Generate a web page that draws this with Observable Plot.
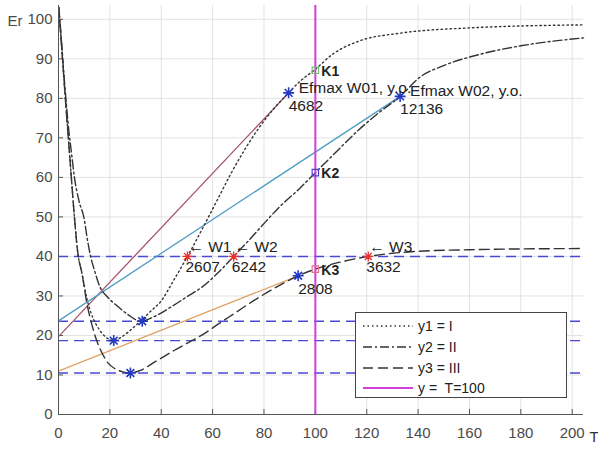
<!DOCTYPE html>
<html><head><meta charset="utf-8">
<script src="https://cdn.jsdelivr.net/npm/d3@7"></script>
<script src="https://cdn.jsdelivr.net/npm/@observablehq/plot@0.6"></script>
<style>
body{margin:0;background:#fff;font-family:"Liberation Sans",Arial,Helvetica,sans-serif;}
#wrap{position:relative;width:598px;height:450px;overflow:hidden;}
#legend{position:absolute;left:355px;top:312px;width:212px;height:86px;border:1px solid #444;background:#fff;box-sizing:border-box;font-size:14px;color:#222;}
.row{position:absolute;left:0;height:20px;display:flex;align-items:center;white-space:pre;}
.row svg{margin-left:7px;margin-right:5px;}
</style></head><body><div id="wrap"></div>
<script>
// ---- data ----
const xTicks = [0,20,40,60,80,100,120,140,160,180,200];
const yTicks = [0,10,20,30,40,50,60,70,80,90,100];

const y1T = [0.1,1,2,3,4,5,6,7.5,9.2,11,12.5,14.5,17,19,21.5,24,27,30,33,36,39.7,44.7,50.2,56,62,67,72,78,84,89.6,94,99.5,107,117.5,133,159,204.4];
const y1E = [103,95,86,77,68.5,60,51.5,41,35.5,29.5,26,23,20.5,19.3,18.7,19.4,20.8,22.5,24.3,26.2,28.5,33.8,40,47,54.5,60.8,66.5,72.5,77.5,81.4,84.3,87.1,91.3,94.6,96.5,97.8,98.6];

const y2T = [0.1,1,2,3,4,5,6.2,8,9.9,11.2,12.5,14,16,19,22.8,27,32,38,44,50,56,62,68.2,74,78.6,86,94.2,100,108.5,116,124,133,141,150,165,180,204.4];
const y2E = [103,96,87,79,72,66.5,60,54,49.8,44.5,40,36.5,32.5,29.8,27.5,25.3,23.6,25,27.3,29.8,32.3,35.8,40,44,47.3,52.5,57.4,61.2,66.7,71.5,76,80.5,85.5,88.3,91.3,93.3,95.3];

const y3T = [0.1,1,2,3,4,5,6,7.5,9.2,11.1,13.1,15,17,19.6,22,25,28,32,38,45,50,56.6,62,69,76,85,93.3,100,110,120.6,130,140,160,180,204.4];
const y3E = [103,95,86,77,68.5,60,51.5,41,35.5,28,22.5,18.5,15.5,12.8,11.6,10.8,10.5,11.2,13.5,16.2,18,20.4,22.8,25.8,28.8,32.3,35.1,36.8,38.6,40,40.8,41.3,41.7,41.9,42];

const levelE = [40, 23.6, 18.7, 10.5];          // horizontal dashed levels
const minT = [21.5, 32.6, 28];                   // minima (blue stars)
const minE = [18.7, 23.6, 10.5];
const efT = [89.6, 133, 93.3];                   // Efmax points (blue stars)
const efE = [81.4, 80.5, 35.1];
const efLabel = ["Efmax W01, y.o.", "Efmax W02, y.o.", ""];
const efValue = ["4682", "12136", "2808"];
const tanStartE = [19.7, 23.7, 11.0];            // tangent lines start at T = 0
const tanColor = ["#a5556a", "#4f9dc4", "#e0a266"];
const wT = [50.2, 68.2, 120.6];                  // level crossings (red stars)
const wE = [40, 40, 40];
const wLabel = ["\u2190 W1", "\u2190 W2", "\u2190 W3"];
const wValue = ["2607", "6242", "3632"];
const kT = [100, 100, 100];                      // intersections with T = 100
const kE = [87.1, 61.2, 36.8];
const kLabel = ["K1", "K2", "K3"];
const kColor = ["#66c466", "#4444cc", "#e07080"];
const vLineT = [100];

const legendLabels = ["y1 = I", "y2 = II", "y3 = III", "y =  T=100"];

// ---- build ----
const pts = (T, E) => T.map((t, i) => ({T: t, E: E[i]}));
const idx3 = [0, 1, 2];
const tanData = idx3.flatMap(i => [{T: 0, E: tanStartE[i], s: i}, {T: efT[i], E: efE[i], s: i}]);

const asterisk = {draw(ctx, size) {
  const r = Math.sqrt(size / Math.PI), d = r * Math.SQRT1_2;
  ctx.moveTo(-r, 0); ctx.lineTo(r, 0); ctx.moveTo(0, -r); ctx.lineTo(0, r);
  ctx.moveTo(-d, -d); ctx.lineTo(d, d); ctx.moveTo(-d, d); ctx.lineTo(d, -d);
}};
const square = {draw(ctx, size) {
  const r = Math.sqrt(size / Math.PI); ctx.rect(-r, -r, 2 * r, 2 * r);
}};

const curveColor = "#333";
const font = '"Liberation Sans", Arial, Helvetica, sans-serif';

const chart = Plot.plot({
  width: 598, height: 450,
  marginLeft: 58, marginRight: 15, marginTop: 5, marginBottom: 36,
  x: {domain: [0, 204.4]},
  y: {domain: [0, 103.5]},
  style: {fontFamily: font, fontSize: "15px", color: "#444", background: "#fff", overflow: "visible"},
  marks: [
    Plot.gridX(xTicks, {stroke: "#e2e2e2", strokeOpacity: 1}),
    Plot.gridY(yTicks, {stroke: "#e2e2e2", strokeOpacity: 1}),
    Plot.axisX(xTicks, {tickSize: 0, tickPadding: 13, fill: "#4a4a4a", fontSize: 15, label: null}),
    Plot.axisY(yTicks, {tickSize: 0, tickPadding: 6, fill: "#4a4a4a", fontSize: 15, label: null}),
    Plot.axisX(xTicks, {tickSize: -5, text: null, stroke: "#555", label: null}),
    Plot.axisY(yTicks, {tickSize: -5, text: null, stroke: "#555", label: null}),
    Plot.ruleY(levelE, {stroke: "#4a4ad6", strokeWidth: 1.4, strokeDasharray: "10,6"}),
    Plot.line(tanData, {x: "T", y: "E", z: "s", stroke: d => tanColor[d.s], strokeWidth: 1.3}),
    Plot.line(pts(y1T, y1E), {x: "T", y: "E", curve: "monotone-x", stroke: curveColor, strokeWidth: 1.4, strokeDasharray: "1.5,3"}),
    Plot.line(pts(y2T, y2E), {x: "T", y: "E", curve: "monotone-x", stroke: curveColor, strokeWidth: 1.4, strokeDasharray: "9,3,2,3"}),
    Plot.line(pts(y3T, y3E), {x: "T", y: "E", curve: "monotone-x", stroke: curveColor, strokeWidth: 1.4, strokeDasharray: "10,5"}),
    Plot.ruleX(vLineT, {stroke: "#d040d8", strokeWidth: 2}),
    Plot.ruleX([0], {stroke: "#555"}),
    Plot.ruleY([0], {stroke: "#555"}),
    Plot.dot(idx3, {x: i => minT[i], y: i => minE[i], symbol: asterisk, r: 5.5, fill: "none", stroke: "#2438c0", strokeWidth: 1.6}),
    Plot.dot(idx3, {x: i => efT[i], y: i => efE[i], symbol: asterisk, r: 5.5, fill: "none", stroke: "#2438c0", strokeWidth: 1.6}),
    Plot.dot(idx3, {x: i => wT[i], y: i => wE[i], symbol: asterisk, r: 5, fill: "none", stroke: "#e8302c", strokeWidth: 1.3}),
    Plot.dot(idx3, {x: i => kT[i], y: i => kE[i], symbol: square, r: 3.2, fill: "none", stroke: i => kColor[i], strokeWidth: 1.2}),
    Plot.text(idx3, {x: i => efT[i], y: i => efE[i], text: i => efLabel[i], textAnchor: "start", dx: 10, dy: -5, fontSize: 15.5, fill: "#222"}),
    Plot.text(idx3, {x: i => efT[i], y: i => efE[i], text: i => efValue[i], textAnchor: "start", dx: 0, dy: 13, fontSize: 15.5, fill: "#222"}),
    Plot.text(idx3, {x: i => wT[i], y: i => wE[i], text: i => wLabel[i], textAnchor: "start", dx: 1, dy: -9, fontSize: 15.5, fill: "#222"}),
    Plot.text(idx3, {x: i => wT[i], y: i => wE[i], text: i => wValue[i], textAnchor: "start", dx: -2, dy: 11, fontSize: 15.5, fill: "#222"}),
    Plot.text(idx3, {x: i => kT[i], y: i => kE[i], text: i => kLabel[i], textAnchor: "start", dx: 6, dy: 1, fontSize: 14, fontWeight: "bold", fill: "#222"}),
    Plot.text(["Er"], {frameAnchor: "top-left", dx: -51, dy: 10, textAnchor: "start", fontSize: 15, fill: "#4a4a4a"}),
    Plot.text(["T"], {frameAnchor: "bottom-right", dx: 6, dy: 27, textAnchor: "start", fontSize: 15, fill: "#333"})
  ]
});

const wrap = document.getElementById("wrap");
wrap.appendChild(chart);

// legend overlay
const legend = document.createElement("div");
legend.id = "legend";
const dashes = ["1.5,3", "9,3,2,3", "10,5", null];
const colors = [curveColor, curveColor, curveColor, "#d040d8"];
const rowTops = [3, 24, 45, 65];
legendLabels.forEach((lab, i) => {
  const row = document.createElement("div");
  row.className = "row";
  row.style.top = rowTops[i] + "px";
  row.innerHTML = `<svg width="50" height="6"><line x1="0" y1="3" x2="50" y2="3" stroke="${colors[i]}" stroke-width="${i === 3 ? 1.8 : 1.4}" ${dashes[i] ? `stroke-dasharray="${dashes[i]}"` : ""}/></svg><span>${lab}</span>`;
  legend.appendChild(row);
});
wrap.appendChild(legend);
</script></body></html>
